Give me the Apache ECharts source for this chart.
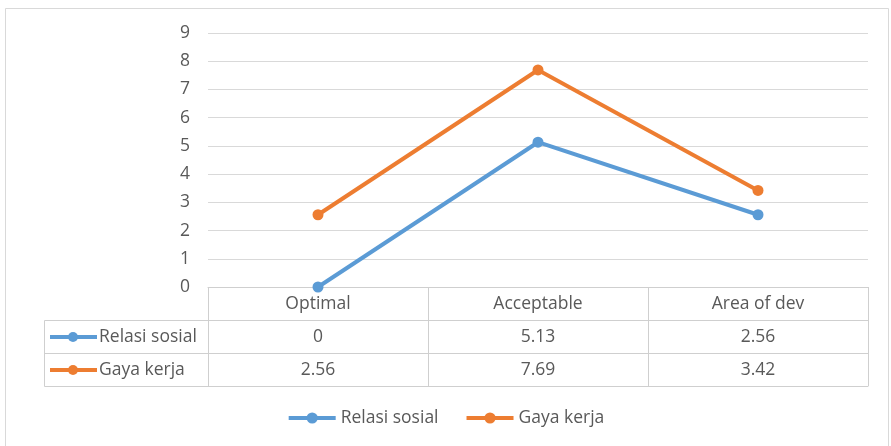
<!DOCTYPE html>
<html>
<head>
<meta charset="utf-8">
<script src="https://cdn.jsdelivr.net/npm/echarts@6/dist/echarts.min.js"></script>
<style>
  html, body { margin: 0; padding: 0; background: #fff; }
  #chart { width: 891px; height: 446px; }
</style>
</head>
<body>
<div id="chart"></div>
<script>
// Categories and the two series shown in the line chart and its data table
const categories = ['Optimal', 'Acceptable', 'Area of dev'];
const relasiSosial = [0, 5.13, 2.56];
const gayaKerja = [2.56, 7.69, 3.42];
const seriesNames = ['Relasi sosial', 'Gaya kerja'];
const yTicks = [0, 1, 2, 3, 4, 5, 6, 7, 8, 9];

const BLUE = '#5B9BD5';
const ORANGE = '#ED7D31';
const TEXT = '#595959';
const GRID = '#d9d9d9';
const BORDER = '#cfcfcf';
const FONT = '"Open Sans", "Noto Sans", sans-serif';
const FS = 17.5;

const chart = echarts.init(document.getElementById('chart'), null, { renderer: 'canvas' });

// One category axis per table row; ticks at the category boundaries form the cell dividers
function rowAxis(offset, formatter, showLabel) {
  return {
    type: 'category',
    data: categories,
    position: 'bottom',
    offset: offset,
    boundaryGap: true,
    axisLine: { show: true, lineStyle: { color: BORDER, width: 1 } },
    axisTick: { show: showLabel !== null, length: 33, interval: 0, lineStyle: { color: BORDER } },
    axisLabel: {
      show: showLabel !== null,
      interval: 0,
      margin: 7,
      color: TEXT,
      fontFamily: FONT,
      fontSize: FS,
      lineHeight: 20,
      formatter: formatter
    },
    splitLine: { show: false }
  };
}

// Small line-with-dot icon plus series name at the left of each data row
function rowHeader(y, name, color) {
  return {
    type: 'group',
    children: [
      { type: 'line', shape: { x1: 50, y1: y, x2: 97, y2: y }, style: { stroke: color, lineWidth: 4 } },
      { type: 'circle', shape: { cx: 73, cy: y, r: 5 }, style: { fill: color } },
      { type: 'text', x: 99, y: y, style: { text: name, fill: TEXT, font: FS + 'px ' + FONT, verticalAlign: 'middle', align: 'left' } }
    ]
  };
}

const option = {
  backgroundColor: '#ffffff',
  animation: false,
  color: [BLUE, ORANGE],
  grid: { left: 208, right: 23, top: 33, bottom: 159, containLabel: false },
  legend: {
    top: 404,
    left: 'center',
    itemWidth: 47,
    itemHeight: 14,
    itemGap: 26,
    lineStyle: { width: 4 },
    textStyle: { color: TEXT, fontFamily: FONT, fontSize: FS },
    data: seriesNames
  },
  xAxis: [
    rowAxis(0, (v) => v, true),
    rowAxis(33, (v, i) => String(relasiSosial[i]), true),
    rowAxis(66, (v, i) => String(gayaKerja[i]), true),
    rowAxis(99, null, null)
  ],
  yAxis: {
    type: 'value',
    min: yTicks[0],
    max: yTicks[yTicks.length - 1],
    interval: 1,
    axisLine: { show: false },
    axisTick: { show: false },
    axisLabel: { color: TEXT, fontFamily: FONT, fontSize: FS, margin: 18 },
    splitLine: { lineStyle: { color: GRID, width: 1 } }
  },
  series: [
    {
      name: seriesNames[0],
      type: 'line',
      data: relasiSosial,
      symbol: 'circle',
      symbolSize: 11,
      lineStyle: { width: 4, color: BLUE },
      itemStyle: { color: BLUE }
    },
    {
      name: seriesNames[1],
      type: 'line',
      data: gayaKerja,
      symbol: 'circle',
      symbolSize: 11,
      lineStyle: { width: 4, color: ORANGE },
      itemStyle: { color: ORANGE }
    }
  ],
  graphic: [
    // outer chart frame
    { type: 'rect', shape: { x: 5.5, y: 8.5, width: 883, height: 450 }, style: { fill: null, stroke: GRID, lineWidth: 1 }, silent: true },
    // left part of the data table (row-header cells)
    { type: 'line', shape: { x1: 44.5, y1: 320.5, x2: 208.5, y2: 320.5 }, style: { stroke: BORDER, lineWidth: 1 } },
    { type: 'line', shape: { x1: 44.5, y1: 353.5, x2: 208.5, y2: 353.5 }, style: { stroke: BORDER, lineWidth: 1 } },
    { type: 'line', shape: { x1: 44.5, y1: 386.5, x2: 208.5, y2: 386.5 }, style: { stroke: BORDER, lineWidth: 1 } },
    { type: 'line', shape: { x1: 44.5, y1: 320.5, x2: 44.5, y2: 386.5 }, style: { stroke: BORDER, lineWidth: 1 } },
    rowHeader(337, seriesNames[0], BLUE),
    rowHeader(370, seriesNames[1], ORANGE)
  ]
};

chart.setOption(option);
</script>
</body>
</html>
